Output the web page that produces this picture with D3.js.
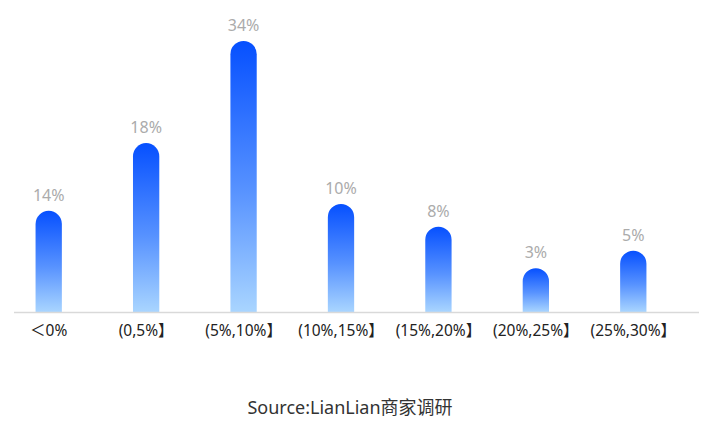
<!DOCTYPE html>
<html><head><meta charset="utf-8">
<script src="https://cdn.jsdelivr.net/npm/d3@7"></script>
<style>body{margin:0;background:#fff;}svg{display:block;}</style>
</head><body>
<svg id="c" width="716" height="422"></svg>
<script>
const categories = ["＜0%", "(0,5%】", "(5%,10%】", "(10%,15%】", "(15%,20%】", "(20%,25%】", "(25%,30%】"];
const shares = [14, 18, 34, 10, 8, 3, 5];               // printed values (%)
const barLevels = [12.7, 21.2, 34, 13.55, 10.7, 5.5, 7.7]; // drawn bar heights
const valueLabels = shares.map(v => v + "%");
const sourceText = "Source:LianLian商家调研";

const svg = d3.select("#c");
const x = d3.scaleBand().domain(categories).range([0, 682]).paddingInner(0.73).paddingOuter(0.365);
const y = d3.scaleLinear().domain([0, 34]).range([312, 41]);

const defs = svg.append("defs");
const g = defs.append("linearGradient").attr("id", "grad").attr("x1", 0).attr("y1", 0).attr("x2", 0).attr("y2", 1);
g.append("stop").attr("offset", "0%").attr("stop-color", "#0650ff");
g.append("stop").attr("offset", "55%").attr("stop-color", "#5792ff");
g.append("stop").attr("offset", "100%").attr("stop-color", "#a9d5ff");

const bw = x.bandwidth();
const r = bw / 2;
svg.append("g").selectAll("path").data(categories).join("path")
  .attr("fill", "url(#grad)")
  .attr("d", (c, i) => {
    const x0 = x(c), top = y(barLevels[i]), base = y(0);
    return `M${x0},${base}L${x0},${top + r}A${r},${r} 0 0 1 ${x0 + bw},${top + r}L${x0 + bw},${base}Z`;
  });

svg.append("line").attr("x1", 14).attr("x2", 699).attr("y1", y(0) + 0.5).attr("y2", y(0) + 0.5)
  .attr("stroke", "#d9d9d9").attr("stroke-width", 1.5);

svg.append("g").selectAll("text").data(categories).join("text")
  .attr("x", c => x(c) + bw / 2).attr("y", (c, i) => y(barLevels[i]) - 10)
  .attr("text-anchor", "middle").attr("fill", "#ababab")
  .attr("font-family", "'Noto Sans', sans-serif").attr("font-size", 16)
  .text((c, i) => valueLabels[i]);

const axis = d3.axisBottom(x).tickSize(0).tickPadding(13);
const ag = svg.append("g").attr("transform", `translate(0,${y(0)})`).call(axis);
ag.select(".domain").remove();
ag.selectAll("text").attr("fill", "#222").attr("font-size", 15.5)
  .attr("font-family", "'Noto Sans', 'Noto Sans CJK SC', sans-serif");

svg.append("text").attr("x", 350).attr("y", 414).attr("text-anchor", "middle")
  .attr("fill", "#333").attr("font-size", 18)
  .attr("font-family", "'Noto Sans', 'Noto Sans CJK SC', sans-serif").text(sourceText);
</script>
</body></html>
